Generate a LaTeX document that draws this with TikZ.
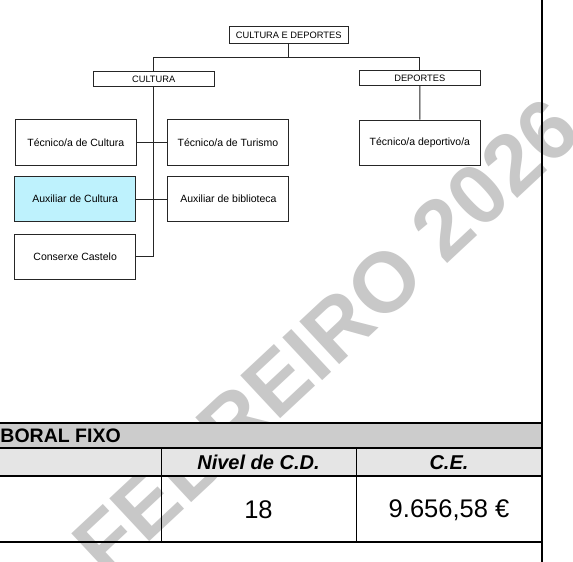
\documentclass[tikz,border=0pt]{standalone}
\usepackage{fontspec}
\setmainfont{Liberation Sans}
\begin{document}
\begin{tikzpicture}[x=1pt,y=-1pt,
  orgbox/.style={draw=black!85,line width=0.9pt,fill=white,rectangle,inner sep=0pt,
     font=\fontsize{10.5}{12}\selectfont,align=center},
  capbox/.style={draw=black!85,line width=0.9pt,fill=white,rectangle,inner sep=0pt,
     font=\fontsize{9.3}{11}\selectfont},
  conn/.style={draw=black!85,line width=0.9pt},
  tline/.style={draw=black,line width=1.3pt},
  hdrfont/.style={font=\fontsize{19.5}{22}\selectfont\bfseries},
  colfont/.style={font=\fontsize{20}{22}\selectfont\bfseries\itshape},
  valfont/.style={font=\fontsize{25.5}{28}\selectfont}]
\useasboundingbox (0,0) rectangle (573,562);
\fill[white] (0,0) rectangle (573,562);
\definecolor{wm}{RGB}{200,200,200}
\definecolor{hdrgray}{RGB}{204,204,204}
\definecolor{rowgray}{RGB}{229,229,229}
\definecolor{auxcyan}{RGB}{190,242,253}
% watermark
\node[wm,rotate=43,inner sep=0pt,font=\fontsize{85}{90}\selectfont\bfseries] (watermark) at (326,337) {FEBREIRO 2026};
% org chart
\node[capbox,minimum width=119pt,minimum height=16.6pt] (top) at (288.7,35) {CULTURA E DEPORTES};
\node[capbox,minimum width=121pt,minimum height=14.3pt] (cultura) at (153.7,78.8) {CULTURA};
\node[capbox,minimum width=121pt,minimum height=15pt] (deportes) at (419.8,77.8) {DEPORTES};
\node[orgbox,minimum width=121pt,minimum height=45.7pt] (tcult) at (75.8,142.2) {Técnico/a de Cultura};
\node[orgbox,minimum width=121pt,minimum height=45.7pt] (tturis) at (227.9,142.2) {Técnico/a de Turismo};
\node[orgbox,minimum width=121pt,minimum height=45pt] (tdep) at (419.9,142.5) {Técnico/a deportivo/a};
\node[orgbox,fill=auxcyan,minimum width=121pt,minimum height=45pt] (acult) at (75.2,199.2) {Auxiliar de Cultura};
\node[orgbox,minimum width=121pt,minimum height=45pt] (abib) at (228.4,199.2) {Auxiliar de biblioteca};
\node[orgbox,minimum width=121pt,minimum height=45.3pt] (conserxe) at (75.2,256.7) {Conserxe Castelo};
\coordinate (bus) at (288.7,57.3);
\draw[conn] (top.south) -- (bus);
\draw[conn] (cultura.north) -- (cultura.north |- bus) -- (deportes.north |- bus) -- (deportes.north);
\draw[conn] (deportes.south) -- (tdep.north);
\draw[conn] (cultura.south) -- (cultura.south |- conserxe.east) -- (conserxe.east);
\draw[conn] (tcult.east) -- (tturis.west);
\draw[conn] (acult.east) -- (abib.west);
% table
\fill[hdrgray] (0,423) rectangle (542,448);
\fill[rowgray] (0,448) rectangle (542,476);
\node[hdrfont,anchor=west,inner sep=0pt] (hdr) at (0.3,435.8) {BORAL FIXO};
\node[colfont,inner sep=0pt] (cdh) at (258.5,462.3) {Nivel de C.D.};
\node[colfont,inner sep=0pt] (ceh) at (449,462.3) {C.E.};
\node[valfont,inner sep=0pt] (cdv) at (258.5,510) {18};
\node[valfont,inner sep=0pt] (cev) at (449,510) {9.656,58 €};
\draw[tline] (0,423) -- (542,423);
\draw[tline] (0,448) -- (542,448);
\draw[tline] (0,476) -- (542,476);
\draw[tline] (0,542) -- (542,542);
\draw[draw=black,line width=1pt] (161,448) -- (161,542);
\draw[draw=black,line width=1pt] (356,448) -- (356,542);
\draw[draw=black,line width=1.3pt] (542,0) -- (542,562);
\end{tikzpicture}
\end{document}
